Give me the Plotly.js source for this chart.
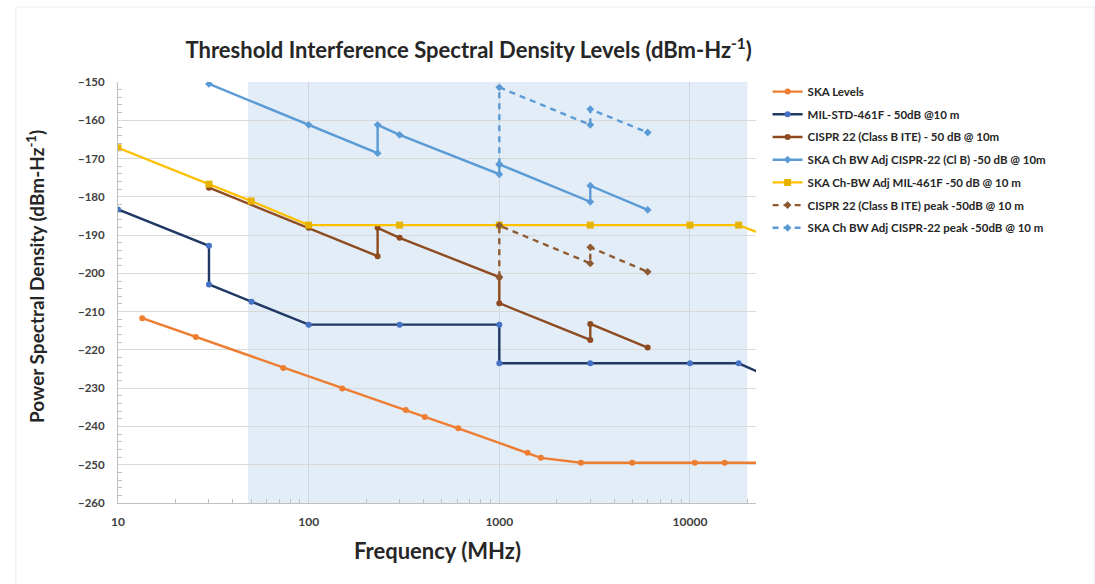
<!DOCTYPE html>
<html>
<head>
<meta charset="utf-8">
<script src="https://cdn.plot.ly/plotly-3.0.1.min.js"></script>
<style>html,body{margin:0;padding:0;background:#fff;}#chart{width:1095px;height:584px;}</style>
</head>
<body>
<div id="chart"></div>
<script>
// ---- data (frequency in MHz, level in dBm/Hz) ----
const skaFreq = [13.4, 25.6, 73.6, 150, 323, 407, 609, 1406, 1652, 2680, 4977, 10600, 15200, 30000];
const skaLevel = [-211.7, -216.6, -224.7, -230.1, -235.7, -237.5, -240.5, -246.9, -248.2, -249.5, -249.5, -249.5, -249.5, -249.5];

const milFreq = [10, 30, 30, 50.2, 100, 300, 1000, 1000, 3000, 10000, 18000, 40000];
const milLevel = [-183.3, -192.8, -202.9, -207.4, -213.4, -213.4, -213.4, -223.5, -223.5, -223.5, -223.5, -231.1];

const cisprFreq = [30, 100, 230, 230, 300, 1000, 1000, 3000, 3000, 6000];
const cisprLevel = [-177.6, -188.1, -195.5, -188.1, -190.7, -201.0, -207.8, -217.4, -213.2, -219.4];

const skaCisprFreq = [30, 100, 230, 230, 300, 1000, 1000, 3000, 3000, 6000];
const skaCisprLevel = [-150.5, -161.2, -168.6, -161.2, -163.8, -174.1, -171.5, -181.3, -177.1, -183.4];

const skaMilFreq = [10, 30, 50, 100, 300, 1000, 3000, 10000, 18000, 40000];
const skaMilLevel = [-167.2, -176.7, -181.1, -187.4, -187.4, -187.4, -187.4, -187.4, -187.4, -194.0];

const cisprPeakFreq = [1000, 1000, 3000, 3000, 6000];
const cisprPeakLevel = [-201.0, -187.5, -197.4, -193.2, -199.6];

const skaPeakFreq = [1000, 1000, 3000, 3000, 6000];
const skaPeakLevel = [-171.5, -151.4, -161.2, -157.1, -163.2];

const seriesNames = [
  'SKA Levels',
  'MIL-STD-461F - 50dB @10 m',
  'CISPR 22 (Class B ITE) - 50 dB @ 10m',
  'SKA Ch BW Adj CISPR-22 (Cl B) -50 dB @ 10m',
  'SKA Ch-BW Adj MIL-461F -50 dB @ 10 m',
  'CISPR 22 (Class B ITE) peak -50dB @ 10 m',
  'SKA Ch BW Adj CISPR-22 peak -50dB @ 10 m'
];
const xTickVals = [10, 100, 1000, 10000];
const xTickText = ['10', '100', '1000', '10000'];
const skaBand = [48, 20000];

// minor tick positions (2..9 within each decade)
const xMinorVals = [];
[10, 100, 1000, 10000].forEach(function (d) {
  for (let k = 2; k <= 9; k++) xMinorVals.push(d * k);
});

function tr(i, x, y, lineColor, markerColor, symbol, size, dash) {
  return {
    type: 'scatter', mode: 'lines+markers', name: seriesNames[i],
    x: x, y: y, legendgroup: 'g' + i,
    line: {color: lineColor, width: 2.4, dash: dash || 'solid'},
    marker: {color: markerColor, symbol: symbol, size: size}
  };
}

const traces = [
  tr(0, skaFreq, skaLevel, '#ED7D31', '#ED7D31', 'circle', 6),
  tr(1, milFreq, milLevel, '#203864', '#4472C4', 'circle', 6),
  tr(2, cisprFreq, cisprLevel, '#8E4B1F', '#8E4B1F', 'circle', 6),
  tr(3, skaCisprFreq, skaCisprLevel, '#5B9BD5', '#5B9BD5', 'diamond', 6),
  tr(4, skaMilFreq, skaMilLevel, '#FFC000', '#E6B400', 'square', 7),
  tr(5, cisprPeakFreq, cisprPeakLevel, '#8E5A32', '#8E5A32', 'diamond', 6, '6px,5px'),
  tr(6, skaPeakFreq, skaPeakLevel, '#5B9BD5', '#5B9BD5', 'diamond', 6, '6px,5px')
];

const font = 'Lato, "Open Sans", sans-serif';

const layout = {
  width: 1095, height: 584,
  margin: {l: 118, r: 339, t: 82, b: 81},
  paper_bgcolor: '#ffffff', plot_bgcolor: '#ffffff',
  font: {family: font, color: '#404040'},
  showlegend: true,
  title: {
    text: '<b>Threshold Interference Spectral Density Levels (dBm-Hz<sup>-1</sup>)</b>',
    font: {family: font, size: 22, color: '#262626'},
    x: 0.428, xref: 'container', xanchor: 'center',
    y: 0.914, yref: 'container', yanchor: 'middle'
  },
  xaxis: {
    type: 'log', range: [1, Math.log10(22200)],
    tickvals: xTickVals, ticktext: xTickText,
    tickfont: {family: font, size: 12, color: '#404040', weight: 'bold'},
    ticklabelstandoff: 8,
    showgrid: true, gridcolor: '#D0D5DC', gridwidth: 1,
    showline: true, linecolor: '#BFBFBF', linewidth: 1,
    ticks: '', zeroline: false,
    minor: {tickmode: 'array', tickvals: xMinorVals, ticks: 'inside', ticklen: 4, tickcolor: '#BFBFBF', showgrid: false}
  },
  yaxis: {
    range: [-260, -150], dtick: 10,
    tickfont: {family: font, size: 11.5, color: '#404040', weight: 'bold'},
    ticklabelstandoff: 10,
    showgrid: true, gridcolor: '#D9D9D9', gridwidth: 1,
    showline: true, linecolor: '#BFBFBF', linewidth: 1,
    ticks: '', zeroline: false,
    minor: {ticks: 'inside', ticklen: 4, tickcolor: '#BFBFBF', dtick: 2, showgrid: false}
  },
  annotations: [
    {text: '<b>Frequency (MHz)</b>', xref: 'paper', yref: 'paper',
     x: 0.5, y: (503 - 550) / 421, xanchor: 'center', yanchor: 'middle',
     showarrow: false, font: {family: font, size: 22, color: '#262626'}},
    {text: '<b>Power Spectral Density (dBm-Hz<sup>-1</sup>)</b>', xref: 'paper', yref: 'paper',
     x: (35 - 118) / 638, y: (503 - 276) / 421, xanchor: 'center', yanchor: 'middle',
     textangle: -90, showarrow: false, font: {family: font, size: 19, color: '#262626'}}
  ],
  legend: {
    x: 0.701, xref: 'container', xanchor: 'left',
    y: 0.868, yref: 'container', yanchor: 'top',
    font: {family: font, size: 11.5, color: '#262626', weight: 'bold'},
    bgcolor: 'rgba(0,0,0,0)', traceorder: 'grouped', tracegroupgap: 3.7,
    itemwidth: 30
  },
  shapes: [
    {type: 'rect', layer: 'below', xref: 'x', yref: 'paper',
     x0: skaBand[0], x1: skaBand[1], y0: 0, y1: 1,
     fillcolor: '#E3EDF8', line: {width: 0}},
    {type: 'rect', layer: 'below', xref: 'paper', yref: 'paper',
     x0: -0.16, x1: 1.53, y0: -0.2, y1: 1.178,
     fillcolor: 'rgba(0,0,0,0)', line: {color: '#EDEDED', width: 1}}
  ]
};

Plotly.newPlot('chart', traces, layout, {displayModeBar: false, staticPlot: true});
</script>
</body>
</html>
